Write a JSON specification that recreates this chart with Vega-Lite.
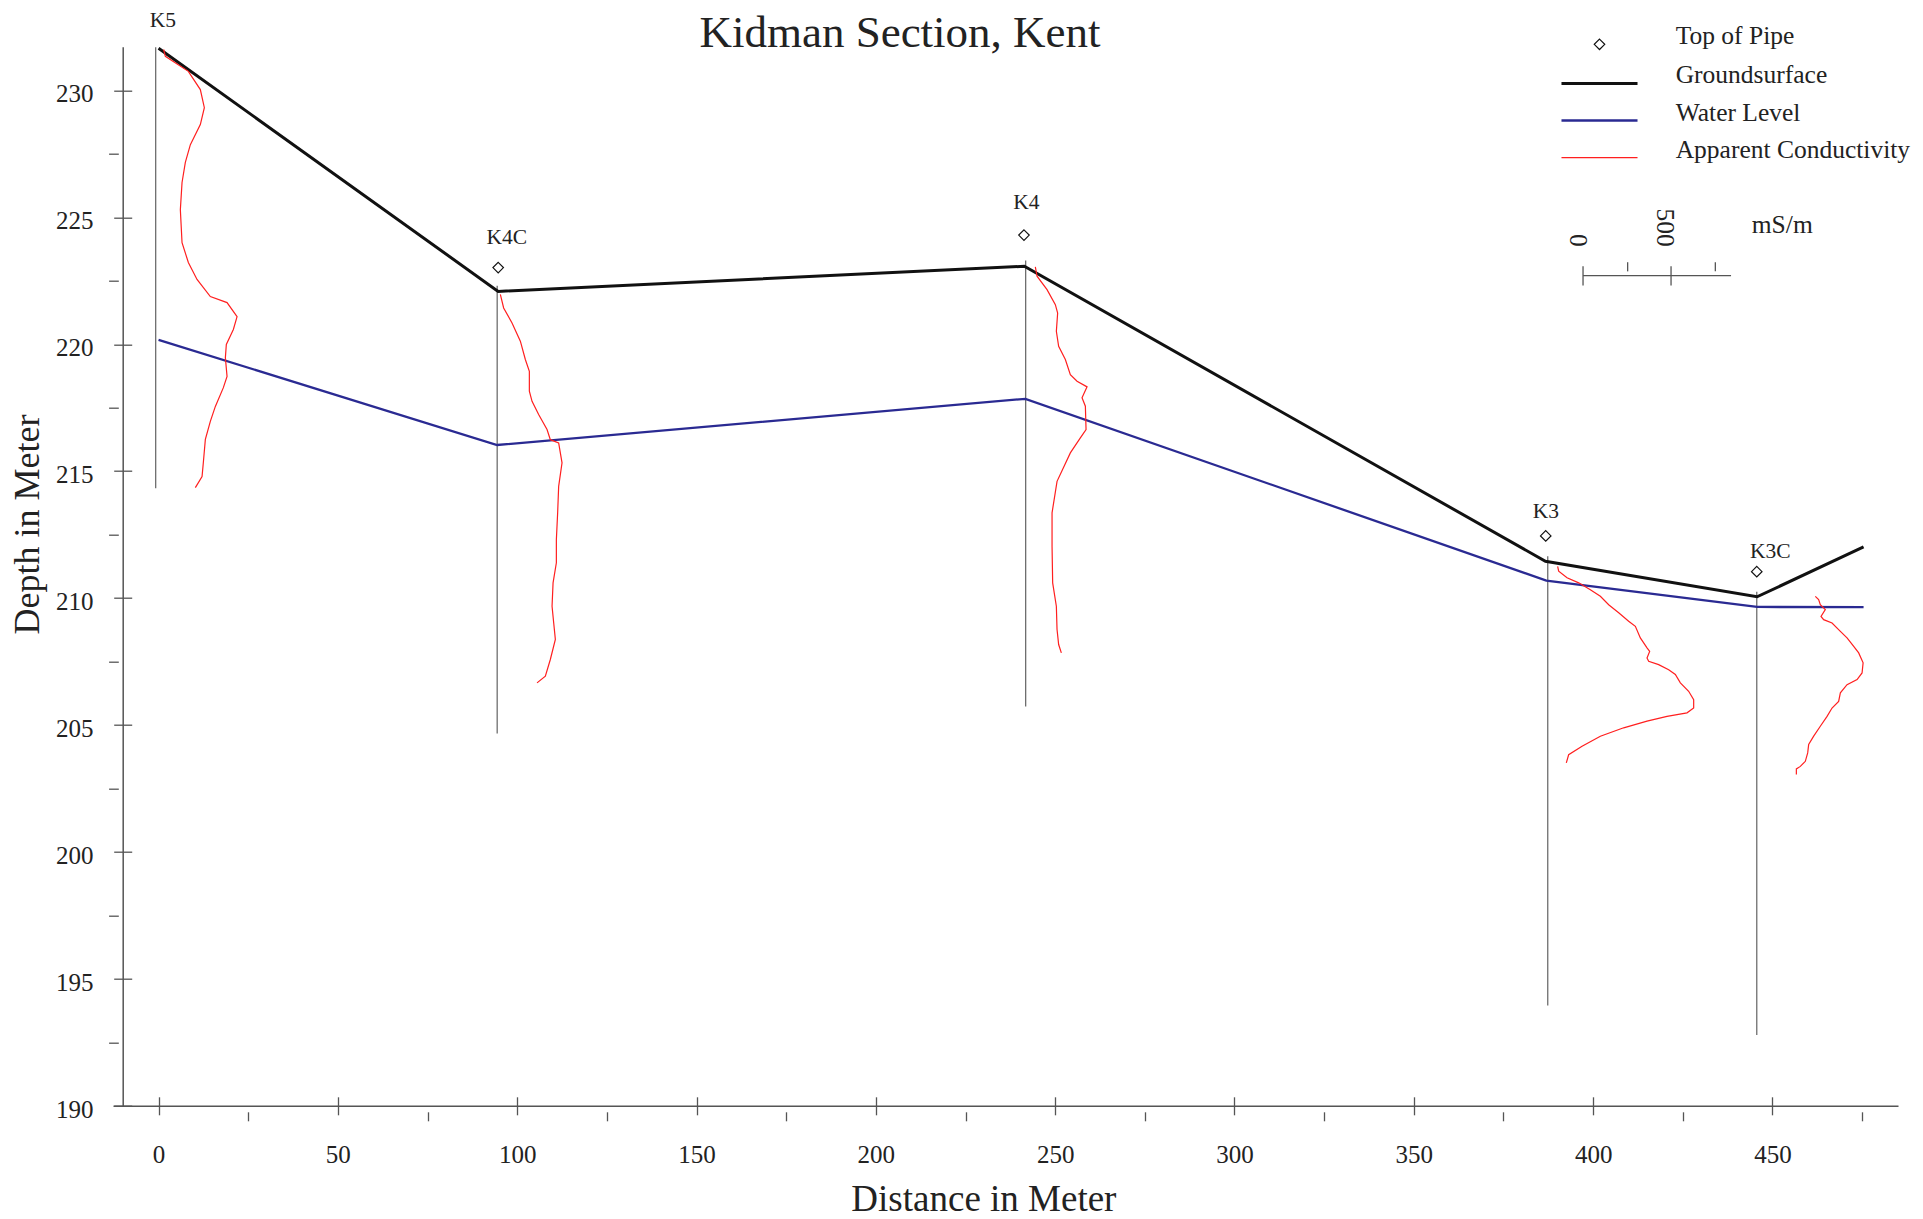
{
  "$schema": "https://vega.github.io/schema/vega-lite/v6.json",
  "width": 1785,
  "height": 1059.1,
  "autosize": "none",
  "padding": {"left": 113, "top": 46.7, "right": 25, "bottom": 113.2},
  "background": "white",
  "title": {"text": "Kidman Section, Kent", "font": "Liberation Serif", "fontSize": 45, "fontWeight": "normal", "color": "#222", "anchor": "middle", "frame": "group", "dx": -105.5, "dy": 82, "baseline": "alphabetic", "offset": 0},
  "config": {"view": {"stroke": null}, "font": "Liberation Serif"},
  "datasets": {
    "wells": [
      {"well": "K5", "dist": -0.8, "top": 231.7, "bottom": 214.33},
      {"well": "K4C", "dist": 94.42, "top": 222.3, "bottom": 204.67},
      {"well": "K4", "dist": 241.77, "top": 223.3, "bottom": 205.73},
      {"well": "K3", "dist": 387.34, "top": 211.65, "bottom": 193.95},
      {"well": "K3C", "dist": 445.62, "top": 210.25, "bottom": 192.79}
    ],
    "pipes": [
      {"series": "Top of Pipe", "well": "K4C", "dist": 94.7, "elev": 223.02},
      {"series": "Top of Pipe", "well": "K4", "dist": 241.3, "elev": 224.3},
      {"series": "Top of Pipe", "well": "K3", "dist": 386.78, "elev": 212.45},
      {"series": "Top of Pipe", "well": "K3C", "dist": 445.62, "elev": 211.04}
    ],
    "labels": [
      {"well": "K5", "dist": 1.23, "elev": 232.5},
      {"well": "K4C", "dist": 97.13, "elev": 223.95},
      {"well": "K4", "dist": 241.94, "elev": 225.32},
      {"well": "K3", "dist": 386.81, "elev": 213.14},
      {"well": "K3C", "dist": 449.42, "elev": 211.57}
    ],
    "scalebar": [
      {"part": "bar", "dist": 397.18, "dist2": 438.45, "elev": 222.7, "elev2": 222.7},
      {"part": "0", "dist": 397.18, "dist2": 397.18, "elev": 223.07, "elev2": 222.31},
      {"part": "250", "dist": 409.62, "dist2": 409.62, "elev": 223.23, "elev2": 222.87},
      {"part": "500", "dist": 421.72, "dist2": 421.72, "elev": 223.07, "elev2": 222.31},
      {"part": "750", "dist": 434.07, "dist2": 434.07, "elev": 223.23, "elev2": 222.87}
    ],
    "scalelabels": [
      {"text": "0", "dist": 393.56, "elev": 223.84},
      {"text": "500", "dist": 417.73, "elev": 223.84}
    ],
    "unitlabel": [
      {"text": "mS/m", "dist": 444.23, "elev": 224.37}
    ],
    "lines": [
      {"series": "Groundsurface", "well": "G", "ord": 1, "dist": 0, "elev": 231.66},
      {"series": "Groundsurface", "well": "G", "ord": 2, "dist": 94.7, "elev": 222.08},
      {"series": "Groundsurface", "well": "G", "ord": 3, "dist": 241.4, "elev": 223.07},
      {"series": "Groundsurface", "well": "G", "ord": 4, "dist": 386.7, "elev": 211.45},
      {"series": "Groundsurface", "well": "G", "ord": 5, "dist": 445.7, "elev": 210.05},
      {"series": "Groundsurface", "well": "G", "ord": 6, "dist": 475.4, "elev": 212.02},
      {"series": "Water Level", "well": "W", "ord": 1, "dist": 0, "elev": 220.17},
      {"series": "Water Level", "well": "W", "ord": 2, "dist": 94.4, "elev": 216.03},
      {"series": "Water Level", "well": "W", "ord": 3, "dist": 241.7, "elev": 217.85},
      {"series": "Water Level", "well": "W", "ord": 4, "dist": 386.95, "elev": 210.69},
      {"series": "Water Level", "well": "W", "ord": 5, "dist": 445.7, "elev": 209.65},
      {"series": "Water Level", "well": "W", "ord": 6, "dist": 475.4, "elev": 209.64},
      {"series": "Apparent Conductivity", "well": "K5", "ord": 1, "dist": 1.42, "elev": 231.61},
      {"series": "Apparent Conductivity", "well": "K5", "ord": 2, "dist": 1.9, "elev": 231.34},
      {"series": "Apparent Conductivity", "well": "K5", "ord": 3, "dist": 8.31, "elev": 230.75},
      {"series": "Apparent Conductivity", "well": "K5", "ord": 4, "dist": 11.65, "elev": 230.03},
      {"series": "Apparent Conductivity", "well": "K5", "ord": 5, "dist": 12.77, "elev": 229.32},
      {"series": "Apparent Conductivity", "well": "K5", "ord": 6, "dist": 11.65, "elev": 228.65},
      {"series": "Apparent Conductivity", "well": "K5", "ord": 7, "dist": 8.87, "elev": 227.86},
      {"series": "Apparent Conductivity", "well": "K5", "ord": 8, "dist": 7.47, "elev": 227.16},
      {"series": "Apparent Conductivity", "well": "K5", "ord": 9, "dist": 6.55, "elev": 226.37},
      {"series": "Apparent Conductivity", "well": "K5", "ord": 10, "dist": 6.08, "elev": 225.3},
      {"series": "Apparent Conductivity", "well": "K5", "ord": 11, "dist": 6.55, "elev": 224.0},
      {"series": "Apparent Conductivity", "well": "K5", "ord": 12, "dist": 8.31, "elev": 223.22},
      {"series": "Apparent Conductivity", "well": "K5", "ord": 13, "dist": 10.73, "elev": 222.55},
      {"series": "Apparent Conductivity", "well": "K5", "ord": 14, "dist": 14.44, "elev": 221.88},
      {"series": "Apparent Conductivity", "well": "K5", "ord": 15, "dist": 19.1, "elev": 221.64},
      {"series": "Apparent Conductivity", "well": "K5", "ord": 16, "dist": 21.89, "elev": 221.09},
      {"series": "Apparent Conductivity", "well": "K5", "ord": 17, "dist": 20.86, "elev": 220.58},
      {"series": "Apparent Conductivity", "well": "K5", "ord": 18, "dist": 18.9, "elev": 219.99},
      {"series": "Apparent Conductivity", "well": "K5", "ord": 19, "dist": 18.63, "elev": 219.47},
      {"series": "Apparent Conductivity", "well": "K5", "ord": 20, "dist": 19.1, "elev": 218.73},
      {"series": "Apparent Conductivity", "well": "K5", "ord": 21, "dist": 18.07, "elev": 218.29},
      {"series": "Apparent Conductivity", "well": "K5", "ord": 22, "dist": 15.84, "elev": 217.55},
      {"series": "Apparent Conductivity", "well": "K5", "ord": 23, "dist": 14.44, "elev": 216.96},
      {"series": "Apparent Conductivity", "well": "K5", "ord": 24, "dist": 13.05, "elev": 216.25},
      {"series": "Apparent Conductivity", "well": "K5", "ord": 25, "dist": 12.49, "elev": 215.34},
      {"series": "Apparent Conductivity", "well": "K5", "ord": 26, "dist": 12.13, "elev": 214.79},
      {"series": "Apparent Conductivity", "well": "K5", "ord": 27, "dist": 10.26, "elev": 214.35},
      {"series": "Apparent Conductivity", "well": "K4C", "ord": 1, "dist": 95.3, "elev": 221.96},
      {"series": "Apparent Conductivity", "well": "K4C", "ord": 2, "dist": 96.22, "elev": 221.43},
      {"series": "Apparent Conductivity", "well": "K4C", "ord": 3, "dist": 98.56, "elev": 220.84},
      {"series": "Apparent Conductivity", "well": "K4C", "ord": 4, "dist": 100.88, "elev": 220.12},
      {"series": "Apparent Conductivity", "well": "K4C", "ord": 5, "dist": 102.27, "elev": 219.4},
      {"series": "Apparent Conductivity", "well": "K4C", "ord": 6, "dist": 103.39, "elev": 218.93},
      {"series": "Apparent Conductivity", "well": "K4C", "ord": 7, "dist": 103.39, "elev": 218.15},
      {"series": "Apparent Conductivity", "well": "K4C", "ord": 8, "dist": 104.14, "elev": 217.75},
      {"series": "Apparent Conductivity", "well": "K4C", "ord": 9, "dist": 105.98, "elev": 217.23},
      {"series": "Apparent Conductivity", "well": "K4C", "ord": 10, "dist": 108.32, "elev": 216.64},
      {"series": "Apparent Conductivity", "well": "K4C", "ord": 11, "dist": 109.24, "elev": 216.24},
      {"series": "Apparent Conductivity", "well": "K4C", "ord": 12, "dist": 111.56, "elev": 216.11},
      {"series": "Apparent Conductivity", "well": "K4C", "ord": 13, "dist": 112.5, "elev": 215.33},
      {"series": "Apparent Conductivity", "well": "K4C", "ord": 14, "dist": 111.56, "elev": 214.4},
      {"series": "Apparent Conductivity", "well": "K4C", "ord": 15, "dist": 111.28, "elev": 213.36},
      {"series": "Apparent Conductivity", "well": "K4C", "ord": 16, "dist": 110.92, "elev": 212.3},
      {"series": "Apparent Conductivity", "well": "K4C", "ord": 17, "dist": 110.92, "elev": 211.39},
      {"series": "Apparent Conductivity", "well": "K4C", "ord": 18, "dist": 110.0, "elev": 210.6},
      {"series": "Apparent Conductivity", "well": "K4C", "ord": 19, "dist": 109.72, "elev": 209.68},
      {"series": "Apparent Conductivity", "well": "K4C", "ord": 20, "dist": 110.18, "elev": 209.02},
      {"series": "Apparent Conductivity", "well": "K4C", "ord": 21, "dist": 110.64, "elev": 208.37},
      {"series": "Apparent Conductivity", "well": "K4C", "ord": 22, "dist": 109.24, "elev": 207.58},
      {"series": "Apparent Conductivity", "well": "K4C", "ord": 23, "dist": 107.85, "elev": 206.92},
      {"series": "Apparent Conductivity", "well": "K4C", "ord": 24, "dist": 105.53, "elev": 206.66},
      {"series": "Apparent Conductivity", "well": "K4", "ord": 1, "dist": 244.47, "elev": 223.05},
      {"series": "Apparent Conductivity", "well": "K4", "ord": 2, "dist": 244.94, "elev": 222.68},
      {"series": "Apparent Conductivity", "well": "K4", "ord": 3, "dist": 247.73, "elev": 222.15},
      {"series": "Apparent Conductivity", "well": "K4", "ord": 4, "dist": 250.05, "elev": 221.56},
      {"series": "Apparent Conductivity", "well": "K4", "ord": 5, "dist": 250.69, "elev": 221.23},
      {"series": "Apparent Conductivity", "well": "K4", "ord": 6, "dist": 250.33, "elev": 220.51},
      {"series": "Apparent Conductivity", "well": "K4", "ord": 7, "dist": 250.97, "elev": 219.92},
      {"series": "Apparent Conductivity", "well": "K4", "ord": 8, "dist": 252.84, "elev": 219.4},
      {"series": "Apparent Conductivity", "well": "K4", "ord": 9, "dist": 254.23, "elev": 218.8},
      {"series": "Apparent Conductivity", "well": "K4", "ord": 10, "dist": 256.1, "elev": 218.54},
      {"series": "Apparent Conductivity", "well": "K4", "ord": 11, "dist": 258.89, "elev": 218.32},
      {"series": "Apparent Conductivity", "well": "K4", "ord": 12, "dist": 257.49, "elev": 217.89},
      {"series": "Apparent Conductivity", "well": "K4", "ord": 13, "dist": 258.42, "elev": 217.56},
      {"series": "Apparent Conductivity", "well": "K4", "ord": 14, "dist": 258.61, "elev": 216.64},
      {"series": "Apparent Conductivity", "well": "K4", "ord": 15, "dist": 257.02, "elev": 216.31},
      {"series": "Apparent Conductivity", "well": "K4", "ord": 16, "dist": 254.23, "elev": 215.72},
      {"series": "Apparent Conductivity", "well": "K4", "ord": 17, "dist": 250.52, "elev": 214.6},
      {"series": "Apparent Conductivity", "well": "K4", "ord": 18, "dist": 249.13, "elev": 213.36},
      {"series": "Apparent Conductivity", "well": "K4", "ord": 19, "dist": 249.13, "elev": 212.04},
      {"series": "Apparent Conductivity", "well": "K4", "ord": 20, "dist": 249.3, "elev": 210.6},
      {"series": "Apparent Conductivity", "well": "K4", "ord": 21, "dist": 250.33, "elev": 209.68},
      {"series": "Apparent Conductivity", "well": "K4", "ord": 22, "dist": 250.52, "elev": 208.76},
      {"series": "Apparent Conductivity", "well": "K4", "ord": 23, "dist": 250.97, "elev": 208.17},
      {"series": "Apparent Conductivity", "well": "K4", "ord": 24, "dist": 251.72, "elev": 207.84},
      {"series": "Apparent Conductivity", "well": "K3", "ord": 1, "dist": 390.1, "elev": 211.25},
      {"series": "Apparent Conductivity", "well": "K3", "ord": 2, "dist": 390.39, "elev": 211.06},
      {"series": "Apparent Conductivity", "well": "K3", "ord": 3, "dist": 392.72, "elev": 210.8},
      {"series": "Apparent Conductivity", "well": "K3", "ord": 4, "dist": 395.97, "elev": 210.6},
      {"series": "Apparent Conductivity", "well": "K3", "ord": 5, "dist": 399.22, "elev": 210.33},
      {"series": "Apparent Conductivity", "well": "K3", "ord": 6, "dist": 402.01, "elev": 210.07},
      {"series": "Apparent Conductivity", "well": "K3", "ord": 7, "dist": 404.33, "elev": 209.74},
      {"series": "Apparent Conductivity", "well": "K3", "ord": 8, "dist": 407.12, "elev": 209.42},
      {"series": "Apparent Conductivity", "well": "K3", "ord": 9, "dist": 409.9, "elev": 209.09},
      {"series": "Apparent Conductivity", "well": "K3", "ord": 10, "dist": 411.77, "elev": 208.89},
      {"series": "Apparent Conductivity", "well": "K3", "ord": 11, "dist": 413.16, "elev": 208.43},
      {"series": "Apparent Conductivity", "well": "K3", "ord": 12, "dist": 415.02, "elev": 208.04},
      {"series": "Apparent Conductivity", "well": "K3", "ord": 13, "dist": 415.76, "elev": 207.9},
      {"series": "Apparent Conductivity", "well": "K3", "ord": 14, "dist": 415.02, "elev": 207.64},
      {"series": "Apparent Conductivity", "well": "K3", "ord": 15, "dist": 415.48, "elev": 207.51},
      {"series": "Apparent Conductivity", "well": "K3", "ord": 16, "dist": 418.27, "elev": 207.38},
      {"series": "Apparent Conductivity", "well": "K3", "ord": 17, "dist": 421.06, "elev": 207.18},
      {"series": "Apparent Conductivity", "well": "K3", "ord": 18, "dist": 422.92, "elev": 206.99},
      {"series": "Apparent Conductivity", "well": "K3", "ord": 19, "dist": 424.32, "elev": 206.66},
      {"series": "Apparent Conductivity", "well": "K3", "ord": 20, "dist": 426.63, "elev": 206.33},
      {"series": "Apparent Conductivity", "well": "K3", "ord": 21, "dist": 428.03, "elev": 206.0},
      {"series": "Apparent Conductivity", "well": "K3", "ord": 22, "dist": 428.03, "elev": 205.67},
      {"series": "Apparent Conductivity", "well": "K3", "ord": 23, "dist": 426.17, "elev": 205.48},
      {"series": "Apparent Conductivity", "well": "K3", "ord": 24, "dist": 420.6, "elev": 205.34},
      {"series": "Apparent Conductivity", "well": "K3", "ord": 25, "dist": 415.02, "elev": 205.15},
      {"series": "Apparent Conductivity", "well": "K3", "ord": 26, "dist": 408.51, "elev": 204.89},
      {"series": "Apparent Conductivity", "well": "K3", "ord": 27, "dist": 402.01, "elev": 204.56},
      {"series": "Apparent Conductivity", "well": "K3", "ord": 28, "dist": 396.91, "elev": 204.16},
      {"series": "Apparent Conductivity", "well": "K3", "ord": 29, "dist": 393.17, "elev": 203.83},
      {"series": "Apparent Conductivity", "well": "K3", "ord": 30, "dist": 392.52, "elev": 203.51},
      {"series": "Apparent Conductivity", "well": "K3C", "ord": 1, "dist": 461.94, "elev": 210.07},
      {"series": "Apparent Conductivity", "well": "K3C", "ord": 2, "dist": 462.87, "elev": 209.94},
      {"series": "Apparent Conductivity", "well": "K3C", "ord": 3, "dist": 463.34, "elev": 209.74},
      {"series": "Apparent Conductivity", "well": "K3C", "ord": 4, "dist": 464.73, "elev": 209.55},
      {"series": "Apparent Conductivity", "well": "K3C", "ord": 5, "dist": 463.53, "elev": 209.28},
      {"series": "Apparent Conductivity", "well": "K3C", "ord": 6, "dist": 464.27, "elev": 209.15},
      {"series": "Apparent Conductivity", "well": "K3C", "ord": 7, "dist": 466.61, "elev": 209.02},
      {"series": "Apparent Conductivity", "well": "K3C", "ord": 8, "dist": 468.93, "elev": 208.69},
      {"series": "Apparent Conductivity", "well": "K3C", "ord": 9, "dist": 470.79, "elev": 208.43},
      {"series": "Apparent Conductivity", "well": "K3C", "ord": 10, "dist": 472.65, "elev": 208.1},
      {"series": "Apparent Conductivity", "well": "K3C", "ord": 11, "dist": 474.04, "elev": 207.84},
      {"series": "Apparent Conductivity", "well": "K3C", "ord": 12, "dist": 475.27, "elev": 207.45},
      {"series": "Apparent Conductivity", "well": "K3C", "ord": 13, "dist": 474.98, "elev": 207.05},
      {"series": "Apparent Conductivity", "well": "K3C", "ord": 14, "dist": 473.59, "elev": 206.79},
      {"series": "Apparent Conductivity", "well": "K3C", "ord": 15, "dist": 470.79, "elev": 206.59},
      {"series": "Apparent Conductivity", "well": "K3C", "ord": 16, "dist": 468.93, "elev": 206.27},
      {"series": "Apparent Conductivity", "well": "K3C", "ord": 17, "dist": 468.45, "elev": 205.93},
      {"series": "Apparent Conductivity", "well": "K3C", "ord": 18, "dist": 466.61, "elev": 205.67},
      {"series": "Apparent Conductivity", "well": "K3C", "ord": 19, "dist": 465.22, "elev": 205.34},
      {"series": "Apparent Conductivity", "well": "K3C", "ord": 20, "dist": 463.34, "elev": 204.95},
      {"series": "Apparent Conductivity", "well": "K3C", "ord": 21, "dist": 461.49, "elev": 204.56},
      {"series": "Apparent Conductivity", "well": "K3C", "ord": 22, "dist": 460.09, "elev": 204.23},
      {"series": "Apparent Conductivity", "well": "K3C", "ord": 23, "dist": 459.82, "elev": 203.9},
      {"series": "Apparent Conductivity", "well": "K3C", "ord": 24, "dist": 459.16, "elev": 203.57},
      {"series": "Apparent Conductivity", "well": "K3C", "ord": 25, "dist": 457.77, "elev": 203.37},
      {"series": "Apparent Conductivity", "well": "K3C", "ord": 26, "dist": 456.66, "elev": 203.27},
      {"series": "Apparent Conductivity", "well": "K3C", "ord": 27, "dist": 456.66, "elev": 203.05}
    ]
  },
  "resolve": {"axis": {"x": "independent", "y": "independent"}},
  "layer": [
    {
      "data": {"name": "wells"},
      "mark": {"type": "rule", "color": "#6e6e6e", "strokeWidth": 1.3},
      "encoding": {
        "x": {"field": "dist", "type": "quantitative", "scale": {"domain": [-12.7, 485], "nice": false, "zero": false},
          "axis": {"orient": "bottom", "values": [0, 50, 100, 150, 200, 250, 300, 350, 400, 450], "tickSize": 9, "labelPadding": 27.4, "labelFontSize": 25, "labelFont": "Liberation Serif", "labelColor": "#222", "labelAngle": 0, "labelFlush": false, "labelOverlap": false, "labelBound": false, "format": "d", "grid": false, "domainColor": "#555", "domainWidth": 1.5, "tickColor": "#555", "tickWidth": 1.3,
            "title": "Distance in Meter", "titleFont": "Liberation Serif", "titleFontSize": 37, "titleFontWeight": "normal", "titleColor": "#222", "titleX": 870.4, "titleY": 105, "titleBaseline": "alphabetic", "titleAlign": "center", "titleAngle": 0}},
        "y": {"field": "top", "type": "quantitative", "scale": {"domain": [190, 231.72], "nice": false, "zero": false},
          "axis": {"orient": "left", "offset": -9.7, "values": [190, 195, 200, 205, 210, 215, 220, 225, 230], "tickSize": 9, "labelPadding": 20.7, "labelOffset": 3.5, "labelFontSize": 25, "labelFont": "Liberation Serif", "labelColor": "#222", "labelFlush": false, "labelOverlap": false, "labelBound": false, "format": "d", "grid": false, "domainColor": "#555", "domainWidth": 1.5, "tickColor": "#555", "tickWidth": 1.3,
            "title": "Depth in Meter", "titleFont": "Liberation Serif", "titleFontSize": 36, "titleFontWeight": "normal", "titleColor": "#222", "titleX": -83.9, "titleY": 477.3, "titleBaseline": "alphabetic", "titleAlign": "center", "titleAngle": -90}},
        "y2": {"field": "bottom"}
      }
    },
    {
      "data": {"name": "lines"},
      "mark": {"type": "line", "strokeJoin": "miter"},
      "encoding": {
        "x": {"field": "dist", "type": "quantitative", "scale": {"domain": [-12.7, 485], "nice": false, "zero": false},
          "axis": {"orient": "bottom", "values": [0, 50, 100, 150, 200, 250, 300, 350, 400, 450], "tickSize": -9, "labels": false, "domain": false, "title": null, "grid": false, "tickColor": "#555", "tickWidth": 1.3}},
        "y": {"field": "elev", "type": "quantitative", "scale": {"domain": [190, 231.72], "nice": false, "zero": false},
          "axis": {"orient": "left", "offset": -9.7, "values": [190, 195, 200, 205, 210, 215, 220, 225, 230], "tickSize": -9, "labels": false, "domain": false, "title": null, "grid": false, "tickColor": "#555", "tickWidth": 1.3}},
        "detail": {"field": "well", "type": "nominal"},
        "order": {"field": "ord", "type": "quantitative"},
        "color": {"field": "series", "type": "nominal",
          "scale": {"domain": ["Top of Pipe", "Groundsurface", "Water Level", "Apparent Conductivity"], "range": ["#111111", "#111111", "#2a2a92", "#ff1f1f"]},
          "legend": {"title": null, "orient": "none", "legendX": 1473.75, "legendY": -15.15, "padding": 0, "rowPadding": 10.1, "labelFont": "Liberation Serif", "labelFontSize": 25.5, "labelColor": "#222", "labelOffset": 63.45, "symbolOffset": 0, "labelBaseline": "alphabetic", "symbolSize": 110, "symbolFillColor": "transparent", "labelLimit": 400}},
        "strokeWidth": {"field": "series", "type": "nominal",
          "scale": {"type": "ordinal", "domain": ["Top of Pipe", "Groundsurface", "Water Level", "Apparent Conductivity"], "range": [1.2, 3, 2.3, 1.2]},
          "legend": {"title": null, "orient": "none", "legendX": 1473.75, "legendY": -15.15, "padding": 0, "rowPadding": 10.1, "labelFont": "Liberation Serif", "labelFontSize": 25.5, "labelColor": "#222", "labelOffset": 63.45, "symbolOffset": 0, "labelBaseline": "alphabetic", "symbolSize": 110, "symbolFillColor": "transparent", "labelLimit": 400}}
      }
    },
    {
      "data": {"name": "pipes"},
      "mark": {"type": "point", "filled": false, "size": 110, "opacity": 1},
      "encoding": {
        "x": {"field": "dist", "type": "quantitative", "scale": {"domain": [-12.7, 485], "nice": false, "zero": false},
          "axis": {"orient": "bottom", "offset": 6, "values": [25, 75, 125, 175, 225, 275, 325, 375, 425, 475], "tickSize": 9, "labels": false, "domain": false, "title": null, "grid": false, "tickColor": "#555", "tickWidth": 1.3}},
        "y": {"field": "elev", "type": "quantitative", "scale": {"domain": [190, 231.72], "nice": false, "zero": false},
          "axis": {"orient": "left", "offset": -5.3, "values": [192.5, 197.5, 202.5, 207.5, 212.5, 217.5, 222.5, 227.5], "tickSize": 9.7, "labels": false, "domain": false, "title": null, "grid": false, "tickColor": "#555", "tickWidth": 1.3}},
        "color": {"field": "series", "type": "nominal",
          "scale": {"domain": ["Top of Pipe", "Groundsurface", "Water Level", "Apparent Conductivity"], "range": ["#111111", "#111111", "#2a2a92", "#ff1f1f"]},
          "legend": {"title": null, "orient": "none", "legendX": 1473.75, "legendY": -15.15, "padding": 0, "rowPadding": 10.1, "labelFont": "Liberation Serif", "labelFontSize": 25.5, "labelColor": "#222", "labelOffset": 63.45, "symbolOffset": 0, "labelBaseline": "alphabetic", "symbolSize": 110, "symbolFillColor": "transparent", "labelLimit": 400}},
        "shape": {"field": "series", "type": "nominal",
          "scale": {"domain": ["Top of Pipe", "Groundsurface", "Water Level", "Apparent Conductivity"], "range": ["M0,-1L1,0L0,1L-1,0Z", "M-7.25,0H7.25", "M-7.25,0H7.25", "M-7.25,0H7.25"]},
          "legend": {"title": null, "orient": "none", "legendX": 1473.75, "legendY": -15.15, "padding": 0, "rowPadding": 10.1, "labelFont": "Liberation Serif", "labelFontSize": 25.5, "labelColor": "#222", "labelOffset": 63.45, "symbolOffset": 0, "labelBaseline": "alphabetic", "symbolSize": 110, "symbolFillColor": "transparent", "labelLimit": 400}},
        "strokeWidth": {"field": "series", "type": "nominal",
          "scale": {"type": "ordinal", "domain": ["Top of Pipe", "Groundsurface", "Water Level", "Apparent Conductivity"], "range": [1.2, 3, 2.3, 1.2]},
          "legend": {"title": null, "orient": "none", "legendX": 1473.75, "legendY": -15.15, "padding": 0, "rowPadding": 10.1, "labelFont": "Liberation Serif", "labelFontSize": 25.5, "labelColor": "#222", "labelOffset": 63.45, "symbolOffset": 0, "labelBaseline": "alphabetic", "symbolSize": 110, "symbolFillColor": "transparent", "labelLimit": 400}}
      }
    },
    {
      "data": {"name": "labels"},
      "mark": {"type": "text", "font": "Liberation Serif", "fontSize": 21.5, "color": "#222", "align": "center", "baseline": "alphabetic", "clip": false},
      "encoding": {
        "x": {"field": "dist", "type": "quantitative", "scale": {"domain": [-12.7, 485], "nice": false, "zero": false}, "axis": null},
        "y": {"field": "elev", "type": "quantitative", "scale": {"domain": [190, 231.72], "nice": false, "zero": false}, "axis": null},
        "text": {"field": "well", "type": "nominal"}
      }
    },
    {
      "data": {"name": "scalebar"},
      "mark": {"type": "rule", "color": "#555", "strokeWidth": 1.3},
      "encoding": {
        "x": {"field": "dist", "type": "quantitative", "scale": {"domain": [-12.7, 485], "nice": false, "zero": false}, "axis": null},
        "x2": {"field": "dist2"},
        "y": {"field": "elev", "type": "quantitative", "scale": {"domain": [190, 231.72], "nice": false, "zero": false}, "axis": null},
        "y2": {"field": "elev2"}
      }
    },
    {
      "data": {"name": "scalelabels"},
      "mark": {"type": "text", "font": "Liberation Serif", "fontSize": 25.5, "color": "#222", "align": "right", "baseline": "alphabetic", "angle": 90, "clip": false},
      "encoding": {
        "x": {"field": "dist", "type": "quantitative", "scale": {"domain": [-12.7, 485], "nice": false, "zero": false}, "axis": null},
        "y": {"field": "elev", "type": "quantitative", "scale": {"domain": [190, 231.72], "nice": false, "zero": false}, "axis": null},
        "text": {"field": "text", "type": "nominal"}
      }
    },
    {
      "data": {"name": "unitlabel"},
      "mark": {"type": "text", "font": "Liberation Serif", "fontSize": 25.5, "color": "#222", "align": "left", "baseline": "alphabetic", "clip": false},
      "encoding": {
        "x": {"field": "dist", "type": "quantitative", "scale": {"domain": [-12.7, 485], "nice": false, "zero": false}, "axis": null},
        "y": {"field": "elev", "type": "quantitative", "scale": {"domain": [190, 231.72], "nice": false, "zero": false}, "axis": null},
        "text": {"field": "text", "type": "nominal"}
      }
    }
  ]
}
